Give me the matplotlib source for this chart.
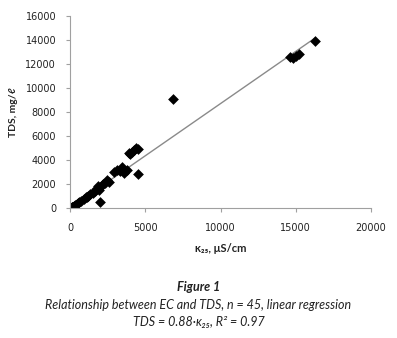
import matplotlib
matplotlib.use("Agg")
import matplotlib.pyplot as plt
import numpy as np

plt.rcParams['font.family'] = ['Lato', 'DejaVu Sans']

ec = [50, 100, 150, 200, 250, 300, 450, 550, 600, 750, 900, 1050, 1100, 1200, 1350,
      1500, 1650, 1750, 1850, 1950, 2000, 2100, 2200, 2300, 2450, 2600, 2950, 3150,
      3300, 3450, 3600, 3800, 3950, 4000, 4100, 4250, 4400, 4500, 4550, 6850,
      14600, 14800, 15000, 15200, 16300]
tds = [30, 80, 50, 120, 180, 250, 350, 420, 480, 600, 750, 880, 950, 1000, 1150,
       1250, 1400, 1600, 1850, 1500, 500, 1900, 2000, 2100, 2300, 2200, 3000, 3200,
       3050, 3400, 2950, 3200, 4550, 4500, 4700, 4850, 5000, 4900, 2800, 9100,
       12600, 12500, 12700, 12850, 13950]
slope = 0.87

xticks = [0, 5000, 10000, 15000, 20000]
yticks = [0, 2000, 4000, 6000, 8000, 10000, 12000, 14000, 16000]

fig = plt.figure(figsize=(3.97, 3.38), dpi=100)
ax = fig.add_axes([70/397, 1-208/338, 301/397, 192/338])

xl = np.array([0, max(ec)])
ax.plot(xl, slope*xl, color='#8a8a8a', lw=1.0, zorder=1)
ax.scatter(ec, tds, marker='D', s=30, color='black', zorder=2, linewidths=0)

ax.set_xlim(0, 20000)
ax.set_ylim(0, 16000)
ax.set_xticks(xticks)
ax.set_yticks(yticks)
for s in ['top', 'right']:
    ax.spines[s].set_visible(False)
for s in ['left', 'bottom']:
    ax.spines[s].set_color('#a0a0a0')
    ax.spines[s].set_linewidth(0.8)
ax.tick_params(axis='both', colors='#a0a0a0', labelcolor='#222222', labelsize=7,
               length=3, width=0.8, direction='out')
ax.tick_params(axis='y', pad=7)
ax.tick_params(axis='x', pad=8)
for lab in ax.get_xticklabels() + ax.get_yticklabels():
    lab.set_family('DejaVu Sans')

ax.set_ylabel('TDS, mg/ℓ', fontsize=7.5, fontweight='bold', labelpad=5, color='#222222')
ax.set_xlabel('κ₂₅, μS/cm', fontsize=8, fontweight='bold', labelpad=7, color='#222222',
              family=['Lato', 'DejaVu Sans'])

fig.text(0.5, 1-287/338, 'Figure 1', ha='center', va='center', fontsize=9,
         fontweight='bold', fontstyle='italic', color='#222222')
fig.text(0.5, 1-305/338, 'Relationship between EC and TDS, n = 45, linear regression',
         ha='center', va='center', fontsize=9, fontstyle='italic', color='#222222')
fig.text(0.5, 1-322/338, 'TDS = 0.88·κ₂₅, R² = 0.97',
         ha='center', va='center', fontsize=9, fontstyle='italic', color='#222222',
         family=['Lato', 'DejaVu Sans'])

fig.savefig('out.png', dpi=100)
